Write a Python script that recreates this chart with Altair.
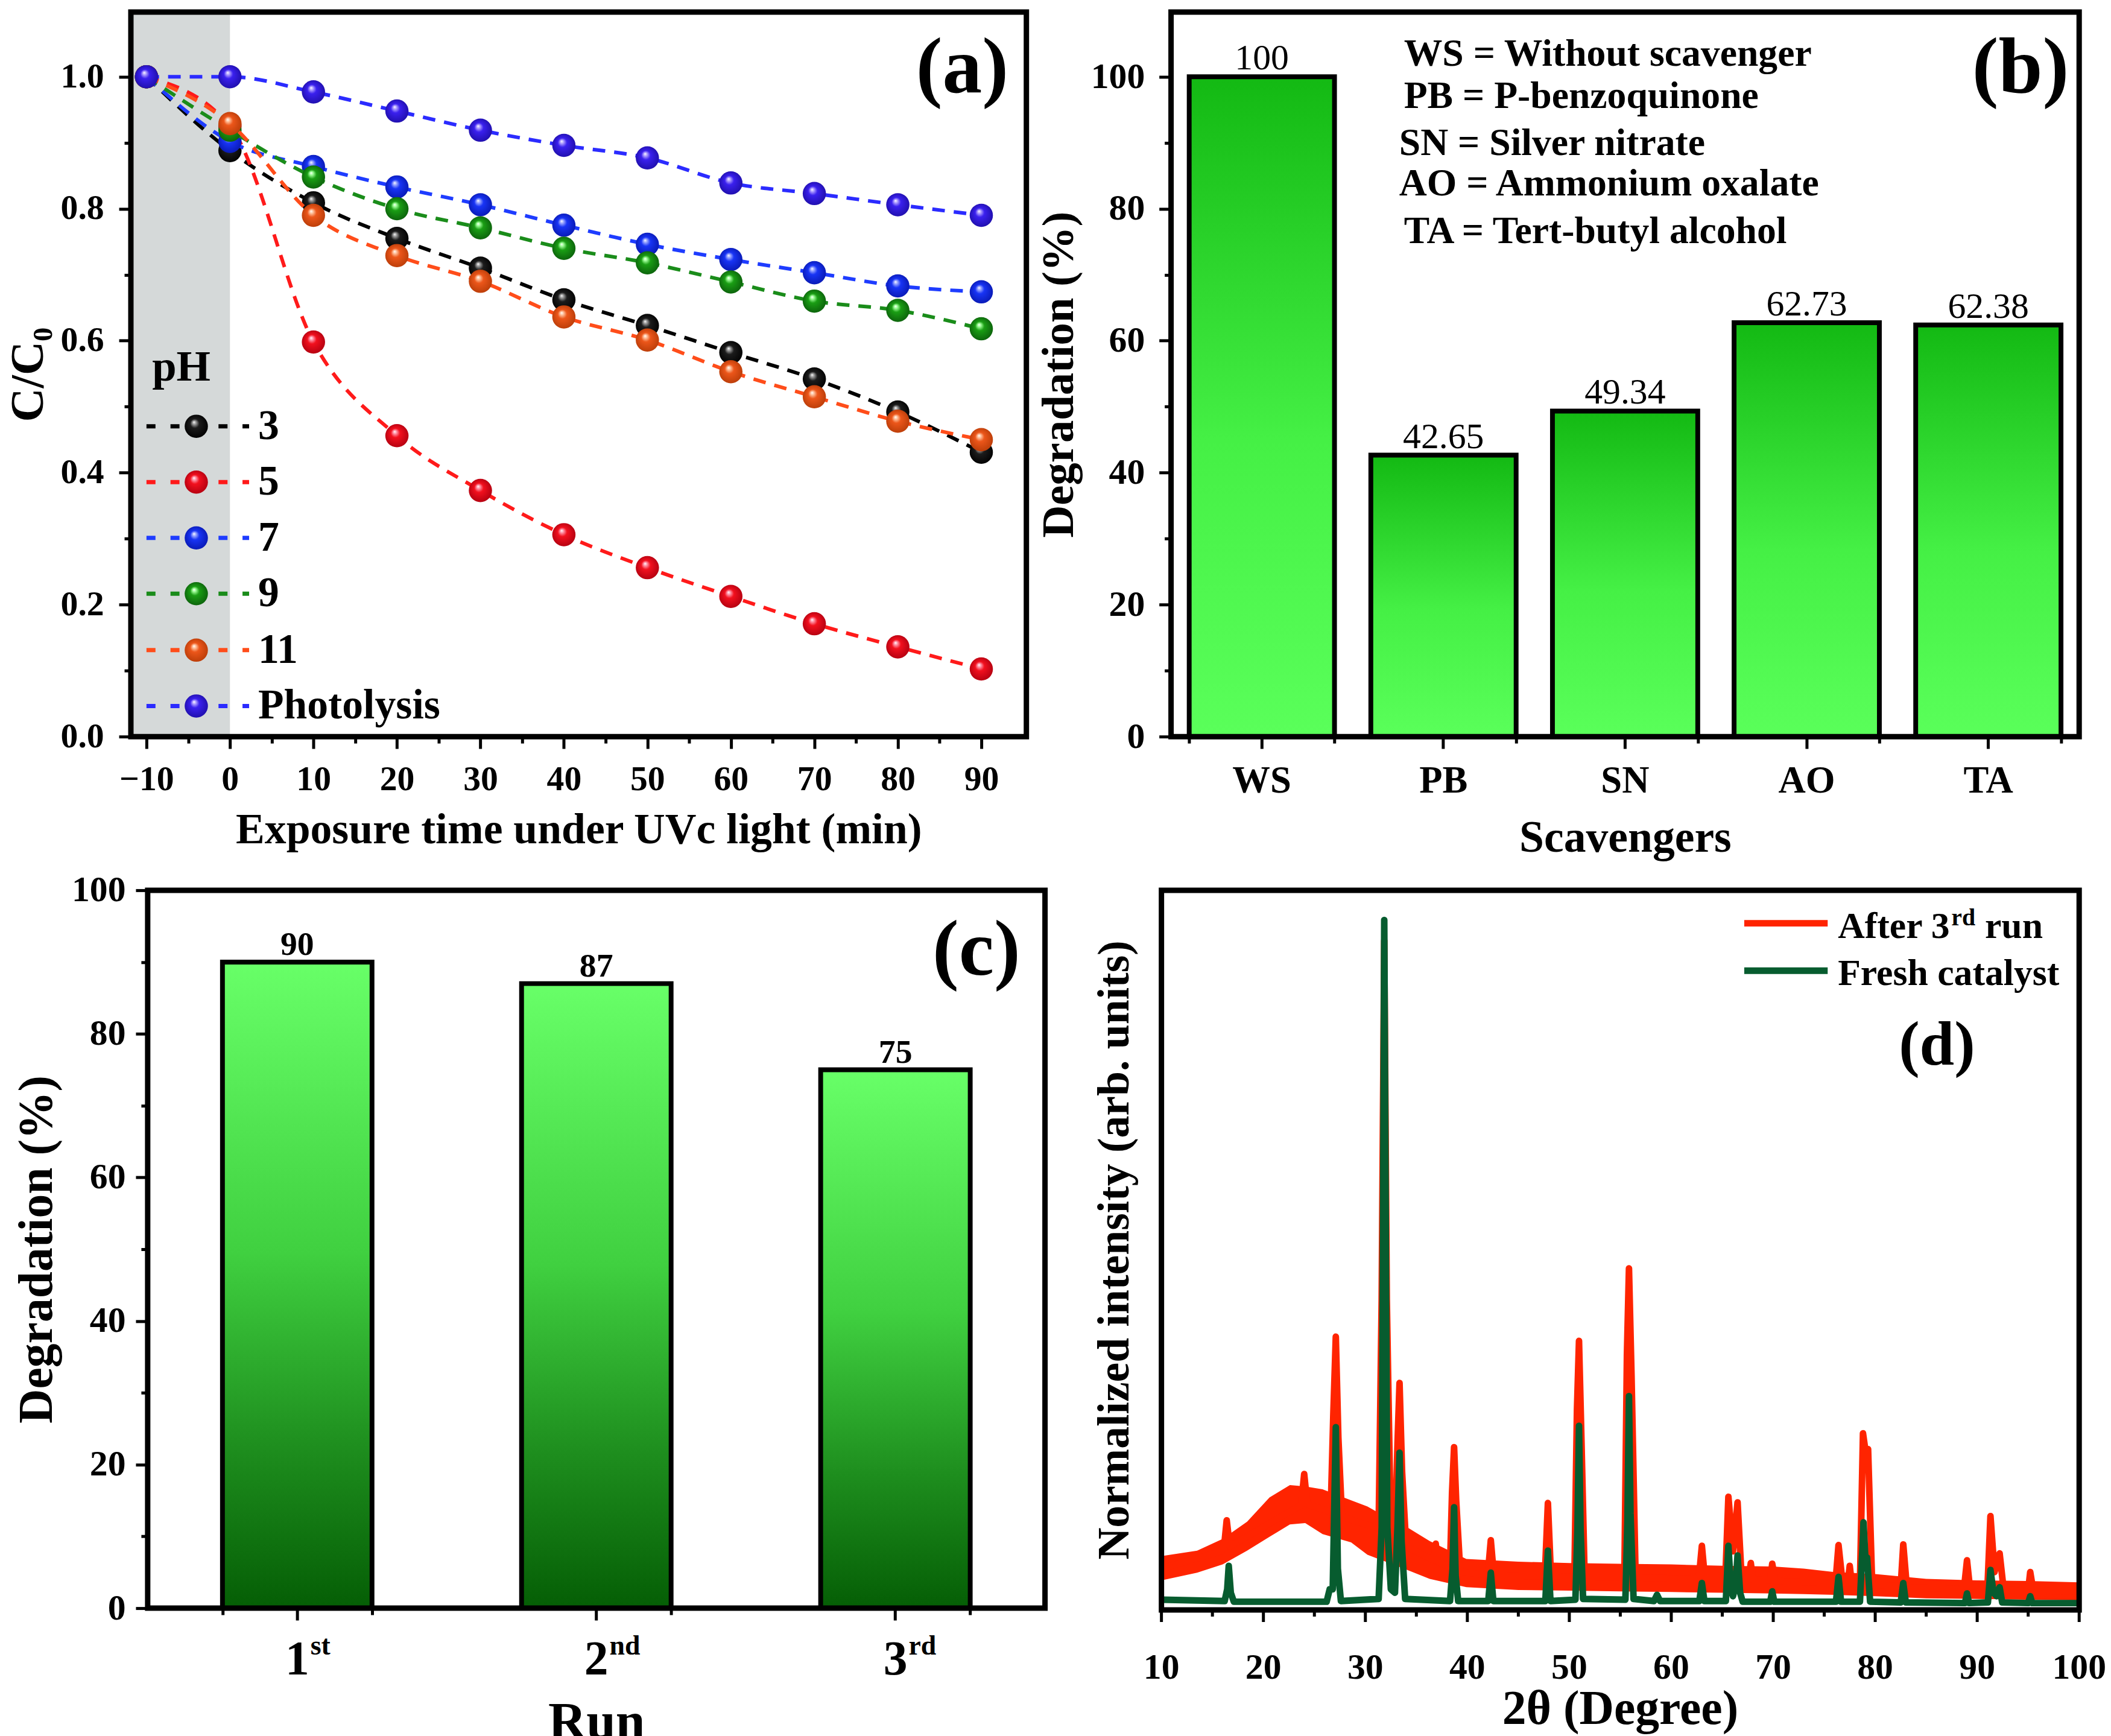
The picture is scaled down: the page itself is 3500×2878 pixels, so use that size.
import altair as alt
import pandas as pd

FONT = "Liberation Serif"

# ====================== DATA ======================
# (a) C/C0 versus exposure time
time_min = [-10, 0, 10, 20, 30, 40, 50, 60, 70, 80, 90]
cc0_ph3 = [1.0, 0.888, 0.809, 0.755, 0.710, 0.662, 0.623, 0.582, 0.542, 0.492, 0.431]
cc0_ph5 = [1.0, 0.925, 0.598, 0.456, 0.373, 0.306, 0.256, 0.2125, 0.171, 0.136, 0.1025]
cc0_ph7 = [1.0, 0.902, 0.864, 0.833, 0.806, 0.775, 0.746, 0.723, 0.703, 0.683, 0.674]
cc0_ph9 = [1.0, 0.919, 0.848, 0.800, 0.771, 0.740, 0.718, 0.689, 0.660, 0.646, 0.618]
cc0_ph11 = [1.0, 0.929, 0.790, 0.729, 0.690, 0.636, 0.601, 0.553, 0.515, 0.478, 0.450]
cc0_photolysis = [1.0, 1.0, 0.977, 0.948, 0.919, 0.896, 0.877, 0.839, 0.823, 0.806, 0.790]
ph_series = ["3", "5", "7", "9", "11", "Photolysis"]
ph_values = [cc0_ph3, cc0_ph5, cc0_ph7, cc0_ph9, cc0_ph11, cc0_photolysis]
dark_start = [-12.0]
dark_end = [0.0]

# (b) scavenger test
scav_codes = ["WS", "PB", "SN", "AO", "TA"]
scav_degradation = [100, 42.65, 49.34, 62.73, 62.38]
scav_value_text = ["100", "42.65", "49.34", "62.73", "62.38"]
scav_key = ["WS = Without scavenger", "PB = P-benzoquinone", "SN = Silver nitrate",
            "AO = Ammonium oxalate", "TA = Tert-butyl alcohol"]

# (c) reusability
run_labels = ["1st", "2nd", "3rd"]
run_suffix = ["st", "nd", "rd"]
run_degradation = [90, 87, 75]

# (d) XRD patterns (normalised)
xrd_major_ticks = [10, 20, 30, 40, 50, 60, 70, 80, 90, 100]
xrd_minor_ticks = [15, 25, 35, 45, 55, 65, 75, 85, 95]
fresh_2theta = [10.0, 16.2, 16.45, 16.6, 16.8, 17.1,
                26.2, 26.5, 26.8, 26.95, 27.1, 27.3, 27.6,
                31.3, 31.6, 31.75, 31.85, 31.95, 32.15, 32.5, 32.9, 33.15, 33.35, 33.55, 33.9,
                38.3, 38.55, 38.7, 38.85, 39.1,
                42.05, 42.3, 42.55,
                47.65, 47.9, 48.15,
                50.6, 50.8, 50.95, 51.1, 51.35,
                55.5, 55.7, 55.85, 56.0, 56.3,
                58.3, 58.6, 58.9,
                62.75, 63.0, 63.25,
                65.35, 65.6, 65.85, 66.05, 66.3, 66.5, 66.75, 67.0,
                69.7, 69.9, 70.1,
                76.15, 76.4, 76.65,
                78.5, 78.75, 78.85, 79.05, 79.2, 79.5,
                82.5, 82.75, 83.0,
                88.8, 89.0, 89.2,
                91.05, 91.3, 91.6, 91.9, 92.2, 92.45,
                95.0, 95.2, 95.4,
                100.0]
fresh_intensity = [0.015, 0.013, 0.03, 0.064, 0.025, 0.012,
                   0.012, 0.03, 0.03, 0.15, 0.265, 0.06, 0.013,
                   0.016, 0.12, 0.62, 1.0, 0.7, 0.12, 0.03, 0.025, 0.12, 0.228, 0.10, 0.016,
                   0.013, 0.06, 0.149, 0.05, 0.013,
                   0.013, 0.054, 0.013,
                   0.013, 0.086, 0.013,
                   0.015, 0.12, 0.267, 0.12, 0.016,
                   0.015, 0.13, 0.31, 0.14, 0.016,
                   0.013, 0.022, 0.013,
                   0.013, 0.039, 0.013,
                   0.013, 0.093, 0.03, 0.02, 0.035, 0.079, 0.025, 0.012,
                   0.012, 0.027, 0.012,
                   0.012, 0.048, 0.012,
                   0.012, 0.09, 0.127, 0.07, 0.076, 0.012,
                   0.011, 0.039, 0.011,
                   0.010, 0.024, 0.010,
                   0.011, 0.058, 0.025, 0.02, 0.033, 0.011,
                   0.010, 0.02, 0.010,
                   0.010]
after_2theta = [10.0, 15.9, 16.2, 16.4, 16.7,
                23.7, 24.0, 24.3,
                26.6, 26.85, 27.1, 27.35, 27.7,
                31.3, 31.6, 31.85, 32.1, 32.5,
                32.9, 33.15, 33.35, 33.6, 34.0,
                36.7, 36.9, 37.1,
                38.3, 38.5, 38.7, 38.9, 39.3,
                42.0, 42.3, 42.6,
                47.6, 47.9, 48.2,
                50.5, 50.75, 50.95, 51.2, 51.5,
                55.4, 55.65, 55.85, 56.1, 56.5,
                62.7, 63.0, 63.3,
                65.3, 65.6, 66.05, 66.5, 66.9,
                67.6, 67.8, 68.0,
                69.7, 69.9, 70.2,
                76.1, 76.4, 76.8,
                77.3, 77.5, 77.7,
                78.5, 78.8, 79.05, 79.3, 79.7,
                82.5, 82.75, 83.1,
                88.7, 89.0, 89.3,
                91.0, 91.3, 91.7, 92.2, 92.6,
                95.0, 95.2, 95.5,
                100.0]
after_intensity = [0.060, 0.085, 0.10, 0.130, 0.092,
                   0.152, 0.197, 0.153,
                   0.142, 0.28, 0.396, 0.25, 0.135,
                   0.118, 0.45, 0.97, 0.45, 0.11,
                   0.10, 0.24, 0.329, 0.20, 0.092,
                   0.072, 0.096, 0.070,
                   0.062, 0.17, 0.236, 0.16, 0.056,
                   0.050, 0.101, 0.050,
                   0.049, 0.155, 0.049,
                   0.048, 0.29, 0.390, 0.24, 0.048,
                   0.047, 0.37, 0.495, 0.34, 0.047,
                   0.045, 0.093, 0.045,
                   0.045, 0.164, 0.085, 0.156, 0.045,
                   0.045, 0.068, 0.044,
                   0.043, 0.067, 0.042,
                   0.039, 0.094, 0.039,
                   0.038, 0.064, 0.038,
                   0.037, 0.256, 0.23, 0.233, 0.037,
                   0.034, 0.095, 0.033,
                   0.030, 0.072, 0.030,
                   0.030, 0.136, 0.055, 0.082, 0.029,
                   0.028, 0.055, 0.028,
                   0.027]
after_band_2theta = [10, 13.5, 16, 18.4, 20.6, 22.6, 24.1, 25.8, 28.6, 30.2, 32.0, 34.3, 36.3,
                     39.9, 45, 50, 55, 60, 65, 70, 73, 76, 80, 85, 90, 95, 100]
after_band_low = [0.043, 0.054, 0.066, 0.086, 0.106, 0.124, 0.126, 0.110, 0.098, 0.080, 0.070,
                  0.057, 0.045, 0.033, 0.029, 0.028, 0.027, 0.026, 0.025, 0.024, 0.023, 0.022,
                  0.020, 0.017, 0.016, 0.015, 0.014]
after_band_high = [0.078, 0.086, 0.103, 0.128, 0.163, 0.181, 0.179, 0.175, 0.159, 0.150, 0.135,
                   0.118, 0.100, 0.074, 0.070, 0.068, 0.067, 0.066, 0.064, 0.063, 0.060, 0.055,
                   0.052, 0.045, 0.043, 0.042, 0.040]

# ====================== STYLE / LAYOUT ======================
W_A, H_A = 1492, 1207
W_B, H_B = 1513, 1207
W_C, H_C = 1495, 1196
W_D, H_D = 1529, 1199
GAP_AB = 241
LEFT_C = 28
GAP_CD = 194
ROW_GAP = 20
FRAME_W = 9
MAJOR_TICK = 20
MINOR_TICK = 11
D_LABEL_Y = H_D + 114
D_TITLE_Y = H_D + 190

LINE_COL = {"3": "#000000", "5": "#FF1A1A", "7": "#1E3CFF", "9": "#1A8C1A",
            "11": "#FF4D1A", "Photolysis": "#2B2BFF"}
BALL = {  # light, base, dark
    "3": ("#A0A0A0", "#1C1C1C", "#000000"),
    "5": ("#FF9AAE", "#F2101E", "#B00010"),
    "7": ("#A0ACFF", "#1834F5", "#0818B0"),
    "9": ("#A0FF9A", "#1A9E14", "#0B5E0B"),
    "11": ("#FFC4A0", "#EC561A", "#B83C08"),
    "Photolysis": ("#B4A4FF", "#3A20EE", "#1E0EA8"),
}
BALL_SIZE = 1500
LEGEND_A = dict(line_x0=26, line_x1=197, ball_x=109, text_x=212,
                rows=[690, 783, 876, 969, 1063, 1156], title_x=84, title_y=614)
KEY_B_POS = [(388, 89), (388, 160), (380, 238), (380, 305), (388, 385)]
RED = "#FF2400"
DKGREEN = "#075C2F"
XRD_LINE_W = 11

one = pd.DataFrame({"k": [0]})


def ball_grad(s):
    light, base, dark = BALL[s]
    return {"gradient": "radial", "x1": 0.4, "y1": 0.32, "r1": 0, "x2": 0.5, "y2": 0.5, "r2": 0.55,
            "stops": [{"offset": 0, "color": "#FFFFFF"}, {"offset": 0.13, "color": light},
                      {"offset": 0.36, "color": base}, {"offset": 1, "color": dark}]}


def frame(w, h):
    return alt.Chart(one).mark_rect(filled=False, stroke="black", strokeWidth=FRAME_W).encode(
        x=alt.value(0), x2=alt.value(w), y=alt.value(0), y2=alt.value(h))


def label(txt, x, y, size, align="left", weight="bold", baseline="alphabetic", color="black", angle=0):
    return alt.Chart(pd.DataFrame({"t": [txt]})).mark_text(
        font=FONT, fontSize=size, fontWeight=weight, align=align, baseline=baseline, color=color, angle=angle
    ).encode(x=alt.value(x), y=alt.value(y), text="t:N")


def spacer(w, h):
    return alt.Chart(one).mark_point(opacity=0).encode(
        x=alt.value(0), y=alt.value(0)).properties(width=w, height=h)


def minor_axis(orient, values=None, band=False):
    kw = dict(title=None, labels=False, tickSize=MINOR_TICK, orient=orient, zindex=1, domain=False, grid=False)
    if band:
        kw["tickBand"] = "extent"
    else:
        kw["values"] = values
    return alt.Axis(**kw)


# ====================== PANEL (a) ======================
xa = alt.Scale(domain=[-11.87, 95.4], nice=False, zero=False)
ya = alt.Scale(domain=[0, 1.098], nice=False, zero=False)
axis_xa = alt.Axis(title="Exposure time under UVc light (min)", values=list(range(-10, 91, 10)),
                   tickSize=MAJOR_TICK, orient="bottom",
                   labelFontSize=58, titleFontSize=72, labelPadding=23, titlePadding=19, zindex=1)
axis_ya = alt.Axis(title="C/C₀", values=[0, 0.2, 0.4, 0.6, 0.8, 1.0], format=".1f",
                   tickSize=MAJOR_TICK, orient="left",
                   labelFontSize=58, titleFontSize=78, labelPadding=25, titlePadding=14, zindex=1)

layers_a = [
    alt.Chart(pd.DataFrame({"x0": dark_start, "x1": dark_end})).mark_rect(color="#D5D9D9", clip=True).encode(
        x=alt.X("x0:Q", scale=xa, axis=axis_xa), x2="x1:Q", y=alt.value(0), y2=alt.value(H_A)),
    alt.Chart(pd.DataFrame({"mx": [40.0], "my": [0.5]})).mark_point(opacity=0).encode(
        x=alt.X("mx:Q", scale=xa, axis=minor_axis("bottom", list(range(-5, 90, 10)))),
        y=alt.Y("my:Q", scale=ya, axis=minor_axis("left", [0.1, 0.3, 0.5, 0.7, 0.9]))),
]
for s, vals in zip(ph_series, ph_values):
    df = pd.DataFrame({"t": time_min, "v": vals})
    layers_a.append(alt.Chart(df).mark_line(color=LINE_COL[s], strokeDash=[21, 15], strokeWidth=6,
                                             interpolate="monotone").encode(
        x=alt.X("t:Q", scale=xa, axis=None),
        y=alt.Y("v:Q", scale=ya, axis=axis_ya if s == "3" else None)))
    layers_a.append(alt.Chart(df).mark_circle(size=BALL_SIZE, opacity=1, fill=ball_grad(s), strokeWidth=0).encode(
        x=alt.X("t:Q", scale=xa, axis=None), y=alt.Y("v:Q", scale=ya, axis=None)))
# legend
layers_a.append(label("pH", LEGEND_A["title_x"], LEGEND_A["title_y"], 73, align="center"))
for s, ry in zip(ph_series, LEGEND_A["rows"]):
    layers_a.append(alt.Chart(one).mark_rule(color=LINE_COL[s], strokeDash=[15, 25], strokeWidth=7).encode(
        x=alt.value(LEGEND_A["line_x0"]), x2=alt.value(LEGEND_A["line_x1"]), y=alt.value(ry)))
    layers_a.append(alt.Chart(one).mark_circle(size=BALL_SIZE, opacity=1, fill=ball_grad(s), strokeWidth=0).encode(
        x=alt.value(LEGEND_A["ball_x"]), y=alt.value(ry)))
    layers_a.append(label(s, LEGEND_A["text_x"], ry, 70, baseline="middle"))
layers_a.append(label("(a)", W_A - 30, 134, 132, align="right"))
layers_a.append(frame(W_A, H_A))
chart_a = alt.layer(*layers_a).resolve_axis(x="independent", y="independent").properties(width=W_A, height=H_A)

# ====================== PANEL (b) ======================
df_b = pd.DataFrame({"code": scav_codes, "deg": scav_degradation, "txt": scav_value_text})
xb = alt.Scale(domain=scav_codes, paddingInner=0.2, paddingOuter=0.1)
yb = alt.Scale(domain=[0, 109.8], nice=False, zero=False)
GRAD_B = {"gradient": "linear", "x1": 0, "y1": 0, "x2": 0, "y2": 1,
          "stops": [{"offset": 0, "color": "#13B913"}, {"offset": 0.55, "color": "#45F045"},
                    {"offset": 1, "color": "#5AFF5A"}]}
axis_xb = alt.Axis(title="Scavengers", labelAngle=0, tickSize=MAJOR_TICK, labelFontSize=63, titleFontSize=74,
                   labelPadding=23, titlePadding=27, orient="bottom", zindex=1)
axis_yb = alt.Axis(title="Degradation (%)", values=list(range(0, 101, 20)),
                   tickSize=MAJOR_TICK, orient="left",
                   labelFontSize=60, titleFontSize=75, labelPadding=24, titlePadding=14, zindex=1)
layers_b = [
    alt.Chart(df_b).mark_bar(fill=GRAD_B, stroke="black", strokeWidth=8).encode(
        x=alt.X("code:N", sort=scav_codes, scale=xb, axis=axis_xb),
        y=alt.Y("deg:Q", scale=yb, axis=axis_yb)),
    alt.Chart(df_b).mark_point(opacity=0).encode(
        x=alt.X("code:N", sort=scav_codes, scale=xb, axis=minor_axis("bottom", band=True)),
        y=alt.Y("deg:Q", scale=yb, axis=minor_axis("left", list(range(10, 100, 20))))),
    alt.Chart(df_b).mark_text(font=FONT, fontSize=60, fontWeight="normal", baseline="alphabetic",
                              dy=-12, color="black").encode(
        x=alt.X("code:N", sort=scav_codes, scale=xb, axis=None),
        y=alt.Y("deg:Q", scale=yb, axis=None), text="txt:N"),
]
for txt, (kx, ky) in zip(scav_key, KEY_B_POS):
    layers_b.append(label(txt, kx, ky, 64))
layers_b.append(label("(b)", W_B - 17, 134, 132, align="right"))
layers_b.append(frame(W_B, H_B))
chart_b = alt.layer(*layers_b).resolve_axis(x="independent", y="independent").properties(width=W_B, height=H_B)

# ====================== PANEL (c) ======================
df_c = pd.DataFrame({"run": run_labels, "deg": run_degradation, "suf": run_suffix})
xc = alt.Scale(domain=run_labels, paddingInner=0.5, paddingOuter=0.25)
yc = alt.Scale(domain=[0, 100], nice=False, zero=False)
GRAD_C = {"gradient": "linear", "x1": 0, "y1": 0, "x2": 0, "y2": 1,
          "stops": [{"offset": 0, "color": "#68FF68"}, {"offset": 0.45, "color": "#40D040"},
                    {"offset": 0.75, "color": "#1E8E1E"}, {"offset": 1, "color": "#055E05"}]}
axis_xc = alt.Axis(title="Run", labelAngle=0, tickSize=MAJOR_TICK, labelFontSize=80, titleFontSize=88,
                   labelExpr="substring(datum.label, 0, 1)",
                   labelPadding=27, titlePadding=20, orient="bottom", zindex=1)
axis_yc = alt.Axis(title="Degradation (%)", values=list(range(0, 101, 20)),
                   tickSize=MAJOR_TICK, orient="left",
                   labelFontSize=60, titleFontSize=80, labelPadding=17, titlePadding=16, zindex=1)
layers_c = [
    alt.Chart(df_c).mark_bar(fill=GRAD_C, stroke="black", strokeWidth=8).encode(
        x=alt.X("run:N", sort=run_labels, scale=xc, axis=axis_xc),
        y=alt.Y("deg:Q", scale=yc, axis=axis_yc)),
    alt.Chart(df_c).mark_point(opacity=0).encode(
        x=alt.X("run:N", sort=run_labels, scale=xc, axis=minor_axis("bottom", band=True)),
        y=alt.Y("deg:Q", scale=yc, axis=minor_axis("left", list(range(10, 100, 20))))),
    alt.Chart(df_c).mark_text(font=FONT, fontSize=56, fontWeight="bold", baseline="alphabetic",
                              dy=-12, color="black").encode(
        x=alt.X("run:N", sort=run_labels, scale=xc, axis=None),
        y=alt.Y("deg:Q", scale=yc, axis=None), text="deg:Q"),
    alt.Chart(df_c).mark_text(font=FONT, fontSize=46, fontWeight="bold", baseline="alphabetic",
                              align="left", dx=22, color="black").encode(
        x=alt.X("run:N", sort=run_labels, scale=xc, axis=None),
        y=alt.value(H_C + 77), text="suf:N"),
    label("(c)", W_C - 41, 141, 132, align="right"),
    frame(W_C, H_C),
]
chart_c = alt.layer(*layers_c).resolve_axis(x="independent", y="independent").properties(width=W_C, height=H_C)

# ====================== PANEL (d) ======================
xd = alt.Scale(domain=[10, 100], nice=False, zero=False)
yd = alt.Scale(domain=[0, 1.043], nice=False, zero=False)
df_band = pd.DataFrame({"t": after_band_2theta, "lo": after_band_low, "hi": after_band_high})
df_after = pd.DataFrame({"t": after_2theta, "v": after_intensity})
df_fresh = pd.DataFrame({"t": fresh_2theta, "v": fresh_intensity})
df_major = pd.DataFrame({"v": xrd_major_ticks, "lab": [str(v) for v in xrd_major_ticks]})
df_minor = pd.DataFrame({"v": xrd_minor_ticks})
layers_d = [
    alt.Chart(df_band).mark_area(color=RED, opacity=1, clip=True).encode(
        x=alt.X("t:Q", scale=xd, axis=None), y=alt.Y("lo:Q", scale=yd, axis=None), y2="hi:Q"),
    alt.Chart(df_after).mark_line(color=RED, strokeWidth=XRD_LINE_W, strokeJoin="round", strokeCap="round",
                                  clip=True).encode(
        x=alt.X("t:Q", scale=xd, axis=None), y=alt.Y("v:Q", scale=yd, axis=None)),
    alt.Chart(df_fresh).mark_line(color=DKGREEN, strokeWidth=XRD_LINE_W, strokeJoin="round", strokeCap="round",
                                  clip=True).encode(
        x=alt.X("t:Q", scale=xd, axis=None), y=alt.Y("v:Q", scale=yd, axis=None)),
    # bottom axis of (d): ticks and labels placed through the x scale
    alt.Chart(df_major).mark_rule(color="black", strokeWidth=5).encode(
        x=alt.X("v:Q", scale=xd, axis=None), y=alt.value(H_D), y2=alt.value(H_D + MAJOR_TICK)),
    alt.Chart(df_minor).mark_rule(color="black", strokeWidth=5).encode(
        x=alt.X("v:Q", scale=xd, axis=None), y=alt.value(H_D), y2=alt.value(H_D + MINOR_TICK)),
    alt.Chart(df_major).mark_text(font=FONT, fontSize=60, fontWeight="bold", align="center",
                                  baseline="alphabetic", color="black").encode(
        x=alt.X("v:Q", scale=xd, axis=None), y=alt.value(D_LABEL_Y), text="lab:N"),
    label("2θ (Degree)", W_D / 2, D_TITLE_Y, 80, align="center"),
    label("Normalized intensity (arb. units)", -39, H_D / 2, 74, align="center", baseline="bottom", angle=270),
    # legend
    alt.Chart(one).mark_rule(color=RED, strokeWidth=XRD_LINE_W).encode(
        x=alt.value(971), x2=alt.value(1110), y=alt.value(55)),
    alt.Chart(one).mark_rule(color=DKGREEN, strokeWidth=XRD_LINE_W).encode(
        x=alt.value(971), x2=alt.value(1110), y=alt.value(134)),
    label("After 3", 1127, 79, 62),
    label("rd", 1316, 58, 40),
    label("run", 1372, 79, 62),
    label("Fresh catalyst", 1127, 158, 62),
    label("(d)", 1292, 291, 104, align="center"),
    frame(W_D, H_D),
]
chart_d = alt.layer(*layers_d).properties(width=W_D, height=H_D)

# ====================== ASSEMBLY ======================
row1 = alt.hconcat(chart_a, spacer(GAP_AB, H_A), chart_b, spacing=0, bounds="flush")
row2 = alt.hconcat(spacer(LEFT_C, H_C), chart_c, spacer(GAP_CD, H_C), chart_d, spacing=0, bounds="flush")
chart = alt.vconcat(row1, row2, spacing=ROW_GAP, padding=0).configure(
    background="white"
).configure_view(strokeWidth=0).configure_axis(
    labelFont=FONT, titleFont=FONT, labelFontWeight="bold", titleFontWeight="bold",
    labelColor="black", titleColor="black", tickColor="black", tickWidth=5,
    domain=False, grid=False, labelOverlap=False, labelFlush=False
)

chart.save("out.html", embed_options={"renderer": "svg", "actions": False})
